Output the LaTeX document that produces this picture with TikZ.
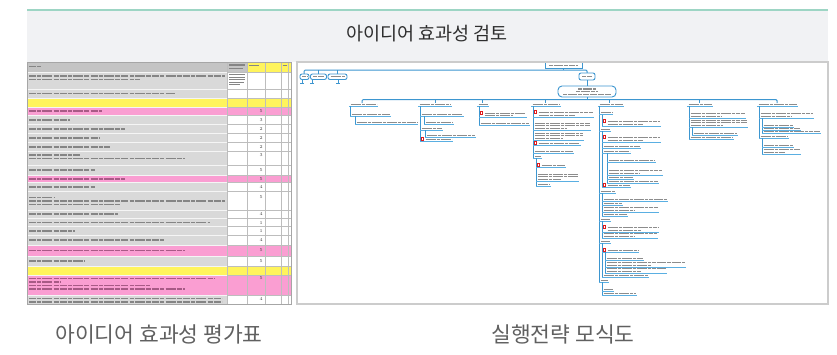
\documentclass[tikz,border=0pt]{standalone}
\usepackage{fontspec}
\newfontfamily\kr{Noto Sans CJK KR}
\definecolor{hdrline}{HTML}{9DD5C4}
\definecolor{hdrbg}{HTML}{F1F2F4}
\definecolor{ttlcol}{HTML}{2E2E2E}
\definecolor{capcol}{HTML}{606060}
\definecolor{imgborder}{HTML}{CCCCCC}
\definecolor{ssgray}{HTML}{D9D9D9}
\definecolor{sshead}{HTML}{C4C4C4}
\definecolor{ssyellow}{HTML}{FFF45C}
\definecolor{sspink}{HTML}{FA9ED2}
\definecolor{ssgrid}{HTML}{BDBDBD}
\definecolor{sstxt}{HTML}{858585}
\definecolor{sspt}{HTML}{A85A86}
\definecolor{treeblue}{HTML}{3D96D0}
\definecolor{treeul}{HTML}{5AAFE2}
\definecolor{treetxt}{HTML}{8C8C8C}
\definecolor{ricon}{HTML}{E01B1B}
\tikzset{
  sst/.style={draw=sstxt, line width=1.8pt, dash pattern=on 7pt off 1.2pt on 4pt off 1.2pt on 10pt off 1.2pt on 5pt off 1.2pt},
  spt/.style={sst, draw=sspt},
  tcon/.style={draw=treeblue, line width=1pt, rounded corners=1.2pt},
  ttx/.style={draw=treetxt, line width=1.1pt, dash pattern=on 4pt off 0.7pt on 6pt off 0.7pt on 3pt off 0.7pt},
  tul/.style={draw=treeul, line width=1pt},
  tbox/.style={draw=treeblue, line width=0.9pt, fill=white, rounded corners=2pt},
  numtxt/.style={anchor=east, font=\fontsize{4.5}{5}\selectfont, text=black!75, inner sep=0pt}
}
\newcommand\ssbar[3]{\draw[sst] (#1,#3)--(#2,#3);}
\newcommand\spbar[3]{\draw[spt] (#1,#3)--(#2,#3);}
\newcommand\ssg[2]{\fill[ssgray] (27,#1) rectangle (227,#2); \fill[white] (227,#1) rectangle (291,#2);}
\newcommand\ssp[2]{\fill[sspink] (27,#1) rectangle (291,#2);}
\newcommand\ssy[2]{\fill[ssyellow] (27,#1) rectangle (291,#2);}
\newcommand\ssnum[3]{\node[numtxt] (#1) at (263,#2) {#3};}
% generic tree item: x1, xtext, x2, y underline, lines
\newcommand\itmx[5]{%
  \foreach \k in {1,...,#5}{%
    \pgfmathsetmacro\xe{(\k==#5 && #5>1) ? #2+0.55*(#3-#2) : #3}%
    \pgfmathsetmacro\yy{#4-1.9-2.5*(#5-\k)}%
    \draw[ttx] (#2,\yy) -- (\xe,\yy);}
  \draw[tul] (#1,#4) -- (#3+1,#4);}
\newcommand\itm[4]{\itmx{#1}{#1+1.5}{#2}{#3}{#4}}
\newcommand\ric[2]{\fill[ricon] (#1,#2-2.2) rectangle (#1+3,#2+1.6);\draw[white,line width=0.5pt] (#1+1.5,#2-1.3)--(#1+1.5,#2+0.7);}
\newcommand\ritm[4]{\pgfmathsetmacro\yr{#3-1.9-2.5*(#4-1)}\ric{#1+1.2}{\yr}\itmx{#1}{#1+5.5}{#2}{#3}{#4}}
\begin{document}
\begin{tikzpicture}[x=1pt,y=-1pt]
\useasboundingbox (0,0) rectangle (837,354);
\fill[white] (0,0) rectangle (837,354);
% header band
\fill[hdrbg] (27,10) rectangle (828,62);
\draw[hdrline, line width=2pt] (27,10) -- (828,10);
\node[font=\kr\fontsize{18.5}{18.5}\selectfont, text=ttlcol] (title) at (427,34) {아이디어 효과성 검토};

% ================= spreadsheet =================
\fill[sshead] (27,62) rectangle (247,72);
\fill[ssyellow] (247,62) rectangle (291,72);
\ssg{72}{89}
\ssg{89}{98}
\ssy{98}{107}
\ssp{107}{115}
\ssg{115}{124.3}
\ssg{124.3}{133.3}
\ssg{133.3}{142.3}
\ssg{142.3}{151}
\ssg{151}{165}
\ssg{165}{175}
\ssp{175}{182.7}
\ssg{182.7}{191.7}
\ssg{191.7}{210}
\ssg{210}{218.3}
\ssg{218.3}{226.7}
\ssg{226.7}{235}
\ssg{235}{245}
\ssp{245}{256}
\ssg{256}{266}
\ssy{266}{275}
\ssp{275}{295}
\ssg{295}{304}
% grid
\foreach \yb in {72,89,98,107,115,124.3,133.3,142.3,151,165,175,182.7,191.7,210,218.3,226.7,235,245,256,266,275,295}{
  \draw[white!85!ssgrid, line width=0.6pt] (27,\yb) -- (227,\yb);
  \draw[ssgrid, line width=0.5pt] (227,\yb) -- (291,\yb);}
\foreach \xb in {227,247,265,281,288}{\draw[ssgrid, line width=0.5pt] (\xb,62) -- (\xb,304);}
\draw[black!35, line width=0.7pt] (27,62) rectangle (291,304);
% header texts
\ssbar{29}{41}{66.5}
\draw[sstxt, line width=1.1pt] (229,65)--(245,65) (229,68.5)--(243,68.5);
\draw[sstxt, line width=1.3pt] (249,65.5)--(259,65.5);
\draw[sstxt, line width=1.3pt] (282.5,65.5)--(287,65.5);
% row texts
\ssbar{29}{225}{76}
\ssbar{29}{140}{79.5}
\draw[sstxt, line width=0.9pt] (229,74.5)--(245,74.5) (229,77)--(245,77) (229,79.5)--(245,79.5) (229,82)--(244,82) (229,84.5)--(240,84.5);
\ssbar{29}{175}{93.5}
\spbar{29}{102}{111}
\ssbar{29}{70}{119.8}
\ssbar{29}{125}{128.8}
\ssbar{29}{100}{137.8}
\ssbar{29}{110}{146.7}
\ssbar{29}{80}{155}
\ssbar{29}{185}{158.5}
\ssbar{29}{95}{170}
\spbar{29}{125}{179}
\ssbar{29}{95}{187.2}
\ssbar{29}{55}{197.5}
\ssbar{29}{225}{201}
\ssbar{29}{120}{204.5}
\ssbar{29}{118}{214.2}
\ssbar{29}{210}{222.5}
\ssbar{29}{75}{230.9}
\ssbar{29}{165}{240}
\spbar{29}{185}{250.5}
\ssbar{29}{85}{261}
\spbar{29}{215}{278.5}
\spbar{29}{60}{282}
\spbar{29}{150}{285.5}
\spbar{29}{185}{289}
\ssbar{29}{222}{298.5}
\ssbar{29}{222}{302.3}
% numbers
\ssnum{v1}{111}{5}
\ssnum{v2}{119.8}{3}
\ssnum{v3}{128.8}{2}
\ssnum{v4}{137.8}{2}
\ssnum{v5}{146.7}{2}
\ssnum{v6}{155}{3}
\ssnum{v7}{170}{5}
\ssnum{v8}{179}{5}
\ssnum{v9}{187.2}{4}
\ssnum{v10}{197.5}{5}
\ssnum{v11}{214.2}{4}
\ssnum{v12}{222.5}{1}
\ssnum{v13}{230.9}{1}
\ssnum{v14}{240}{4}
\ssnum{v15}{250.5}{5}
\ssnum{v16}{261}{5}
\ssnum{v17}{278.5}{5}
\ssnum{v18}{298.5}{4}

% ================= tree picture =================
\fill[white] (297,62) rectangle (828,304);
% top
\draw[tcon] (304,74) -- (304,70) -- (587,70) -- (587,73);
\draw[tcon] (318,70) -- (318,74);
\draw[tcon] (337,70) -- (337,74);
\draw[tcon] (563,68) -- (563,70);
\draw[tbox, rounded corners=0pt] (545,62) rectangle (582,68.5);
\draw[ttx] (549,65.3) -- (578,65.3);
\draw[tbox] (300,74) rectangle (309,79.5);
\draw[tbox] (310.5,74) rectangle (326.5,79.5);
\draw[tbox] (328,74) rectangle (347,79.5);
\draw[ttx] (302,76.8) -- (307,76.8);
\draw[ttx] (313,76.8) -- (324,76.8);
\draw[ttx] (330.5,76.8) -- (344.5,76.8);
\foreach \sx in {302,312,338}{\draw[treeblue, line width=0.9pt] (\sx,79.5) -- (\sx,83) (\sx-1.8,83.3) -- (\sx+1.8,83.3);}
\draw[tbox] (579,73) rectangle (595,80);
\draw[ttx] (582,76.5) -- (592,76.5);
\draw[tcon] (587,80) -- (587,86);
\draw[tbox, rounded corners=4pt] (558,86) rectangle (616,97);
\draw[ttx] (578,89) -- (596,89);
\draw[ttx] (576,91.7) -- (598,91.7);
\draw[ttx] (563,94.4) -- (611,94.4);
\draw[tcon] (587,97) -- (587,99.5);
\draw[tcon] (362,103) -- (362,99.5) -- (777,99.5) -- (777,103);
\foreach \bx in {435,482,545,609,699}{\draw[tcon] (\bx,99.5) -- (\bx,103);}
% branch labels
\itm{349}{377}{106.3}{1}
\itm{418}{451}{106.3}{1}
\itm{477}{488}{106.3}{1}
\itm{531}{560}{106.3}{1}
\itm{598}{623}{106.3}{1}
\itm{687}{712}{106.3}{1}
\itm{757}{797}{106.3}{1}
% B1
\draw[tcon] (350,106.3) -- (350,116);
\itm{350}{390}{116}{1}
\draw[tcon] (355,116) -- (355,124.5);
\itm{355}{417}{124.5}{1}
% B2
\draw[tcon] (420,106.3) -- (420,141.5);
\itm{420}{463}{116}{1}
\draw[tcon] (424,116) -- (424,124);
\itm{424}{453}{124}{1}
\itm{420}{442}{130}{1}
\draw[tcon] (425,130) -- (425,137);
\itm{425}{475}{137}{1}
\ritm{420}{452}{141.5}{1}
% B3
\draw[tcon] (479,106.3) -- (479,125);
\ritm{479}{526}{117.5}{2}
\itm{479}{529}{125}{1}
% B4
\draw[tcon] (533,106.3) -- (533,158);
\ritm{533}{593}{117}{2}
\itm{533}{590}{130}{3}
\itm{533}{583}{140}{3}
\ritm{533}{580}{145}{1}
\itm{533}{573}{153}{1}
\itm{533}{541}{158}{1}
\draw[tcon] (536,158) -- (536,186);
\ritm{536}{565}{167}{1}
\itm{536}{578}{181}{3}
\itm{536}{550}{186}{1}
% B5
\draw[tcon] (599,106.3) -- (599,282);
\itm{599}{612}{114.5}{1}
\draw[tcon] (602,114.5) -- (602,126);
\ritm{602}{660}{126}{2}
\itm{599}{610}{131}{1}
\draw[tcon] (602,131) -- (602,187.5);
\ritm{602}{660}{142}{2}
\itm{602}{640}{148.5}{1}
\itm{602}{630}{153}{1}
\draw[tcon] (607,153) -- (607,183.5);
\itm{607}{655}{162}{1}
\itm{607}{662}{175}{2}
\itm{607}{633}{179}{1}
\itm{607}{658}{183.5}{1}
\ritm{602}{630}{187.5}{1}
\itm{599}{615}{193}{1}
\draw[tcon] (602,193) -- (602,216);
\itm{602}{667}{201}{1}
\itm{602}{622}{205}{1}
\itm{602}{658}{212}{2}
\itm{602}{627}{216}{1}
\itm{599}{610}{221}{1}
\draw[tcon] (602,221) -- (602,238);
\ritm{602}{658}{232}{2}
\itm{602}{657}{238}{2}
\itm{599}{610}{243}{1}
\draw[tcon] (602,243) -- (602,277);
\ritm{602}{638}{252}{1}
\draw[tcon] (605,252) -- (605,273);
\itm{605}{643}{260}{1}
\itm{605}{685}{267}{2}
\itm{605}{666}{273}{2}
\itm{602}{648}{277}{1}
\itm{599}{608}{282}{1}
\draw[tcon] (602,282) -- (602,295);
\itm{602}{613}{291}{1}
\itm{602}{636}{295}{1}
% B6
\draw[tcon] (689,106.3) -- (689,139);
\itm{689}{745}{118}{2}
\itm{689}{747}{127}{3}
\draw[tcon] (692,127) -- (692,135);
\itm{692}{737}{135}{1}
\itm{689}{733}{139}{1}
% B7
\draw[tcon] (759,106.3) -- (759,138);
\itm{759}{813}{118}{2}
\draw[tcon] (762,118) -- (762,133);
\itm{762}{793}{127}{1}
\itm{762}{800}{130}{1}
\itm{762}{820}{133}{1}
\itm{759}{788}{138}{1}
\draw[tcon] (762,138) -- (762,154);
\itm{762}{793}{147}{1}
\itm{762}{800}{154}{2}
% border of tree picture
\draw[imgborder, line width=1.4pt] (297,62) rectangle (828,304);

% captions
\node[font=\kr\fontsize{21.5}{21.5}\selectfont, text=capcol] (cap1) at (159,334) {아이디어 효과성 평가표};
\node[font=\kr\fontsize{21.5}{21.5}\selectfont, text=capcol] (cap2) at (563,334) {실행전략 모식도};
\end{tikzpicture}
\end{document}
